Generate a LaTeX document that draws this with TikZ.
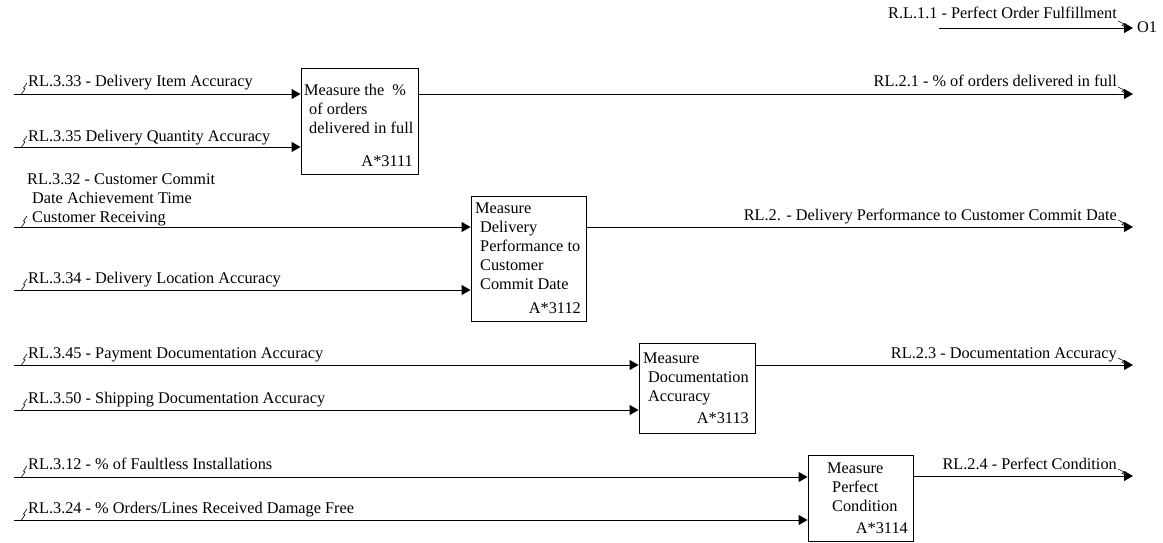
\documentclass[tikz,border=0pt]{standalone}
\usepackage{fontspec}
\setmainfont{Liberation Serif}
\usetikzlibrary{arrows.meta}
\begin{document}
\begin{tikzpicture}[x=1pt,y=-1pt,
  box/.style={draw, line width=0.9pt, inner sep=0pt},
  conn/.style={line width=0.9pt, -{Triangle[length=9pt,width=10pt]}},
  lbl/.style={inner sep=0pt, font=\fontsize{16.3}{19}\selectfont},
  btxt/.style={inner sep=0pt, align=left, font=\fontsize{16.3}{19}\selectfont},
  squig/.style={line width=0.6pt},
  lsq/.pic={\draw[squig] (7.5,0) -- (11,-5) -- (9.5,-6) -- (13,-11);},
  rsq/.pic={\draw[squig] (-15,-7) -- (-9,-4) -- (-11,-2.5) -- (-5,0);}
]
\useasboundingbox (0,0) rectangle (1163,543);

% boxes
\node[box, minimum width=117pt, minimum height=106pt] (b1) at (359.5,121) {};
\node[box, minimum width=115pt, minimum height=125pt] (b2) at (528.5,258.5) {};
\node[box, minimum width=116pt, minimum height=90pt] (b3) at (697,388) {};
\node[box, minimum width=105pt, minimum height=86pt] (b4) at (860.5,498) {};

% box texts (base anchor = baseline of last line)
\node[btxt, anchor=base west] (t1) at (304,133) {Measure the~~\%\\\hspace*{5pt}of orders\\\hspace*{5pt}delivered in full};
\node[lbl, anchor=base east] (n1) at (413,166) {A*3111};
\node[btxt, anchor=base west] (t2) at (475,289) {Measure\\\hspace*{5pt}Delivery\\\hspace*{5pt}Performance to\\\hspace*{5pt}Customer\\\hspace*{5pt}Commit Date};
\node[lbl, anchor=base east] (n2) at (581,313) {A*3112};
\node[btxt, anchor=base west] (t3) at (643,401) {Measure\\\hspace*{5pt}Documentation\\\hspace*{5pt}Accuracy};
\node[lbl, anchor=base east] (n3) at (749,423) {A*3113};
\node[btxt, anchor=base west] (t4) at (827,511) {Measure\\\hspace*{5pt}Perfect\\\hspace*{5pt}Condition};
\node[lbl, anchor=base east] (n4) at (908,533) {A*3114};

% input free ends
\coordinate (i11) at (14,94);
\coordinate (i12) at (14,147);
\coordinate (i21) at (14,227);
\coordinate (i22) at (14,290);
\coordinate (i31) at (14,365);
\coordinate (i32) at (14,410);
\coordinate (i41) at (14,477);
\coordinate (i42) at (14,520);

\draw[conn] (i11) -- (i11 -| b1.west);
\draw[conn] (i12) -- (i12 -| b1.west);
\draw[conn] (i21) -- (i21 -| b2.west);
\draw[conn] (i22) -- (i22 -| b2.west);
\draw[conn] (i31) -- (i31 -| b3.west);
\draw[conn] (i32) -- (i32 -| b3.west);
\draw[conn] (i41) -- (i41 -| b4.west);
\draw[conn] (i42) -- (i42 -| b4.west);

\foreach \c in {i11,i12,i21,i22,i31,i32,i41,i42} { \pic at (\c) {lsq}; }

% input labels
\node[lbl, anchor=base west] (l11) at (28,87) {RL.3.33 - Delivery Item Accuracy};
\node[lbl, anchor=base west] (l12) at (28,141) {RL.3.35 Delivery Quantity Accuracy};
\node[btxt, anchor=base west] (l21) at (27,222) {RL.3.32 - Customer Commit\\\hspace*{5pt}Date Achievement Time\\\hspace*{5pt}Customer Receiving};
\node[lbl, anchor=base west] (l22) at (28,283) {RL.3.34 - Delivery Location Accuracy};
\node[lbl, anchor=base west] (l31) at (28,358) {RL.3.45 - Payment Documentation Accuracy};
\node[lbl, anchor=base west] (l32) at (28,403) {RL.3.50 - Shipping Documentation Accuracy};
\node[lbl, anchor=base west] (l41) at (28,469) {RL.3.12 - \% of Faultless Installations};
\node[lbl, anchor=base west] (l42) at (28,513) {RL.3.24 - \% Orders/Lines Received Damage Free};

% outputs
\coordinate (o0s) at (939,28);
\coordinate (o0) at (1133,28);
\coordinate (o1) at (1133,94);
\coordinate (o2) at (1133,227);
\coordinate (o3) at (1133,365);
\coordinate (o4) at (1133,476);

\draw[conn] (o0s) -- (o0);
\draw[conn] (b1.east |- o1) -- (o1);
\draw[conn] (b2.east |- o2) -- (o2);
\draw[conn] (b3.east |- o3) -- (o3);
\draw[conn] (b4.east |- o4) -- (o4);

\foreach \c in {o0,o1,o2,o3,o4} { \pic at (\c) {rsq}; }

\node[lbl, anchor=base east] (m0) at (1117,19) {R.L.1.1 - Perfect Order Fulfillment};
\node[lbl, anchor=base west] (O1) at (1137,33) {O1};
\node[lbl, anchor=base east] (m1) at (1117,87) {RL.2.1 - \% of orders delivered in full};
\node[lbl, anchor=base east] (m2) at (1117,220) {RL.2. - Delivery Performance to Customer Commit Date};
\node[lbl, anchor=base east] (m3) at (1117,358) {RL.2.3 - Documentation Accuracy};
\node[lbl, anchor=base east] (m4) at (1117,469) {RL.2.4 - Perfect Condition};
\end{tikzpicture}
\end{document}
